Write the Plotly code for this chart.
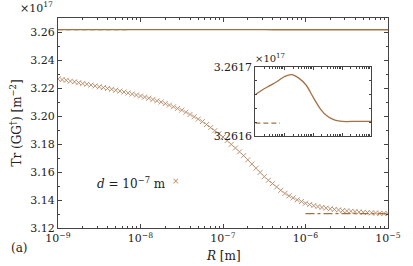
import plotly.graph_objects as go

# ---- data (values in units of 1e17 m^-2) ----
logR_markers = [round(-9 + 0.05 * i, 2) for i in range(81)]
tr_markers = [
    3.2265, 3.2260, 3.2255, 3.2249, 3.2244,
    3.2238, 3.2232, 3.2227, 3.2221, 3.2215,
    3.2209, 3.2203, 3.2197, 3.2191, 3.2184,
    3.2178, 3.2171, 3.2164, 3.2157, 3.2150,
    3.2143, 3.2135, 3.2127, 3.2118, 3.2109,
    3.2100, 3.2089, 3.2078, 3.2066, 3.2054,
    3.2042, 3.2027, 3.2011, 3.1995, 3.1978,
    3.1960, 3.1939, 3.1917, 3.1895, 3.1873,
    3.1850, 3.1824, 3.1797, 3.1771, 3.1744,
    3.1717, 3.1687, 3.1657, 3.1627, 3.1597,
    3.1567, 3.1541, 3.1517, 3.1493, 3.1469,
    3.1447, 3.1430, 3.1415, 3.1401, 3.1389,
    3.1377, 3.1368, 3.1360, 3.1353, 3.1347,
    3.1342, 3.1337, 3.1333, 3.1329, 3.1325,
    3.1322, 3.1319, 3.1317, 3.1314, 3.1312,
    3.1310, 3.1308, 3.1307, 3.1305, 3.1304,
    3.1303,
]
logR_solid = [-9.0, -8.75, -8.5, -8.25, -8.0, -7.75, -7.5, -7.25, -7.0,
              -6.75, -6.5, -6.25, -6.0, -5.5, -5.0]
tr_solid = [3.261660, 3.261667, 3.261673, 3.261679, 3.261686, 3.261689,
            3.261684, 3.261674, 3.261656, 3.261639, 3.261628, 3.261623,
            3.261621, 3.261621, 3.261621]
logR_dash = [-9.0, -8.15]
tr_dash = [3.2616186, 3.2616186]
logR_dashdot = [-6.0, -5.0]
tr_dashdot = [3.1303, 3.1303]

decades = [-9, -8, -7, -6, -5]
xticks_main = [10.0 ** d for d in decades]
xtick_labels = ["10<sup>−9</sup>", "10<sup>−8</sup>", "10<sup>−7</sup>",
                "10<sup>−6</sup>", "10<sup>−5</sup>"]
minor_mult = [2, 3, 4, 5, 6, 7, 8, 9]
xminor = [m * 10.0 ** d for d in decades[:-1] for m in minor_mult]

R_markers = [10 ** v for v in logR_markers]
R_solid = [10 ** v for v in logR_solid]
R_dash = [10 ** v for v in logR_dash]
R_dashdot = [10 ** v for v in logR_dashdot]

LINE = "rgb(165,112,68)"
MARK = "rgb(182,136,100)"
AX = "#444444"
FONT = "DejaVu Serif"

fig = go.Figure()

for xa, ya in (("x", "y"), ("x2", "y2")):
    fig.add_trace(go.Scatter(x=R_solid, y=tr_solid, mode="lines", line_shape="spline",
                             line=dict(color=LINE, width=1.3), xaxis=xa, yaxis=ya,
                             showlegend=False))
    fig.add_trace(go.Scatter(x=R_dash, y=tr_dash, mode="lines",
                             line=dict(color=LINE, width=1.2, dash="5px,3px"),
                             xaxis=xa, yaxis=ya, showlegend=False))

fig.add_trace(go.Scatter(x=R_markers, y=tr_markers, mode="markers",
                         marker=dict(symbol="x-thin", size=5,
                                     line=dict(width=0.9, color=MARK)),
                         showlegend=False))
fig.add_trace(go.Scatter(x=R_dashdot, y=tr_dashdot, mode="lines",
                         line=dict(color=LINE, width=1.2, dash="dashdot"),
                         showlegend=False))

axis_common = dict(showline=True, linecolor=AX, linewidth=1, mirror="allticks",
                   ticks="inside", tickcolor=AX, ticklen=4, showgrid=False,
                   zeroline=False)

fig.update_layout(
    width=413, height=266,
    margin=dict(l=58, r=19, t=14, b=38),
    paper_bgcolor="white", plot_bgcolor="white",
    font=dict(family=FONT, size=11, color="#222222"),
    xaxis=dict(type="log", range=[-9, -5], tickvals=xticks_main, ticktext=xtick_labels,
               minor=dict(ticks="inside", ticklen=2, tickcolor=AX, tickvals=xminor),
               **axis_common),
    yaxis=dict(range=[3.12, 3.27], dtick=0.02, tick0=3.12, tickformat=".2f",
               minor=dict(ticks="inside", ticklen=2, tickcolor=AX, dtick=0.01),
               title=dict(text="Tr (GG<sup>†</sup>) [m<sup>−2</sup>]", standoff=6,
                          font=dict(size=12)),
               **axis_common),
    xaxis2=dict(type="log", range=[-9, -5], domain=[0.598, 0.949], anchor="y2",
                showticklabels=False, tickvals=xticks_main,
                minor=dict(ticks="inside", ticklen=2, tickcolor=AX, tickvals=xminor),
                **{**axis_common, "ticklen": 3}),
    yaxis2=dict(range=[3.2616, 3.2617], domain=[0.439, 0.766], anchor="x2",
                tickvals=[3.2616, 3.2617], tickformat=".4f",
                minor=dict(ticks="inside", ticklen=2, tickcolor=AX, dtick=0.00002),
                **{**axis_common, "ticklen": 3}),
)

fig.add_annotation(text="<i>R</i> [m]", xref="paper", yref="paper",
                   x=0.5, y=-0.135, xanchor="center", yanchor="middle",
                   showarrow=False, font=dict(size=12))
fig.add_annotation(text="×10<sup>17</sup>", xref="paper", yref="paper",
                   x=-0.12, y=1.005, xanchor="left", yanchor="bottom",
                   showarrow=False, font=dict(size=11))
fig.add_annotation(text="×10<sup>17</sup>", xref="paper", yref="paper",
                   x=0.592, y=0.77, xanchor="left", yanchor="bottom",
                   showarrow=False, font=dict(size=10))
fig.add_annotation(text="<i>d</i> = 10<sup>−7</sup> m", xref="paper", yref="paper",
                   x=0.112, y=0.215, xanchor="left", yanchor="middle",
                   showarrow=False, font=dict(size=12))
fig.add_annotation(text="×", xref="paper", yref="paper",
                   x=0.357, y=0.222, xanchor="center", yanchor="middle",
                   showarrow=False, font=dict(size=9, color=MARK))
fig.add_annotation(text="(a)", xref="paper", yref="paper",
                   x=-0.15, y=-0.093, xanchor="left", yanchor="middle",
                   showarrow=False, font=dict(size=12))

fig.write_html("out.html", config={"displayModeBar": False},
               post_script="document.body.style.margin='0px';")
